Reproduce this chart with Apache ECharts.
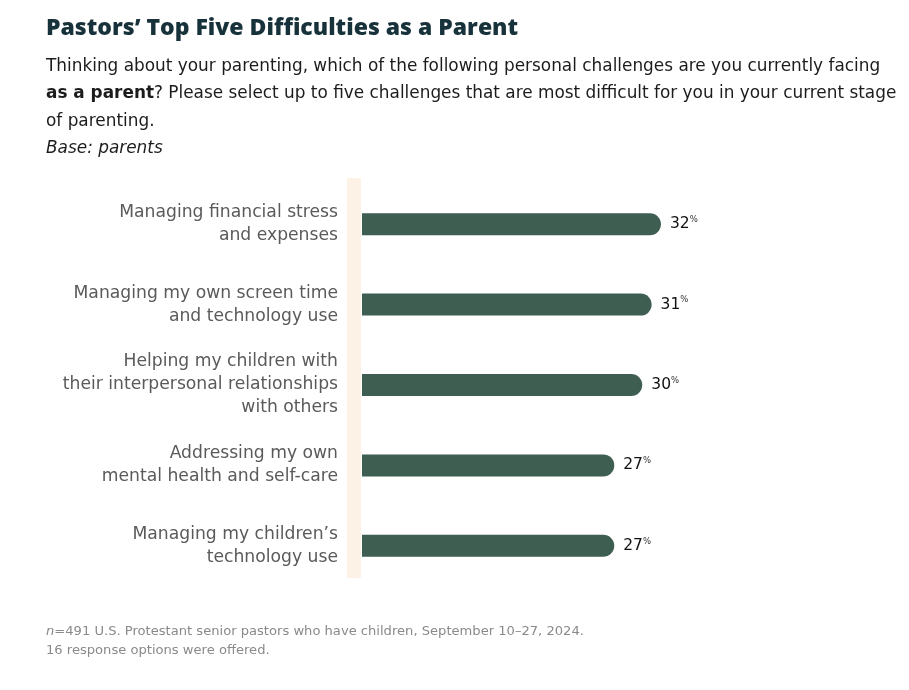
<!DOCTYPE html>
<html><head><meta charset="utf-8">
<script src="https://cdn.jsdelivr.net/npm/echarts@6/dist/echarts.min.js"></script>
<style>html,body{margin:0;padding:0;background:#fff}#c{width:909px;height:690px}</style>
</head><body><div id="c"></div>
<script>
const categories = [
  "Managing financial stress\nand expenses",
  "Managing my own screen time\nand technology use",
  "Helping my children with\ntheir interpersonal relationships\nwith others",
  "Addressing my own\nmental health and self-care",
  "Managing my children’s\ntechnology use"
];
const values = [32, 31, 30, 27, 27];

const chart = echarts.init(document.getElementById('c'), null, {renderer:'canvas'});
const FONT = "'DejaVu Sans', sans-serif";
chart.setOption({
  backgroundColor: '#fff',
  animation: false,
  title: [
    {text: 'Pastors’ Top Five Difficulties as a Parent', left: 41, top: 12,
     textStyle: {fontFamily: "'Open Sans', sans-serif", fontWeight: 800, fontSize: 23, color: '#17323a'}},
    {text: 'Thinking about your parenting, which of the following personal challenges are you currently facing\n{b|as a parent}? Please select up to five challenges that are most difficult for you in your current stage\nof parenting.\n{i|Base: parents}',
     left: 41, top: 48,
     textStyle: {fontFamily: FONT, fontSize: 16.9, fontWeight: 'normal', color: '#1c1c1c', lineHeight: 27.3,
       rich: {b: {fontFamily: FONT, fontSize: 16.9, fontWeight: 'bold', color: '#1c1c1c', lineHeight: 27.3},
              i: {fontFamily: FONT, fontSize: 16.9, fontWeight: 'normal', fontStyle: 'italic', color: '#1c1c1c', lineHeight: 27.3}}}},
    {text: '{i|n}=491 U.S. Protestant senior pastors who have children, September 10–27, 2024.\n16 response options were offered.',
     left: 41, top: 617,
     textStyle: {fontFamily: FONT, fontSize: 13.1, fontWeight: 'normal', color: '#8a8a8a', lineHeight: 19,
       rich: {i: {fontFamily: FONT, fontSize: 13.1, fontWeight: 'normal', fontStyle: 'italic', color: '#8a8a8a', lineHeight: 19}}}}
  ],
  graphic: [
    {type: 'rect', left: 347, top: 178, shape: {width: 14, height: 400}, style: {fill: '#fdf2e6'}, z: 0}
  ],
  grid: {left: 362, top: 184, height: 402, width: 373.7},
  xAxis: {type: 'value', min: 0, max: 40, show: false},
  yAxis: {
    type: 'category', data: categories, inverse: true,
    axisLine: {show: false}, axisTick: {show: false},
    axisLabel: {margin: 24, fontFamily: FONT, fontSize: 17.2, color: '#5a5a5a', lineHeight: 23, align: 'right'}
  },
  series: [{
    type: 'bar', data: values, barWidth: 22,
    itemStyle: {color: '#3d5e50', borderRadius: [0, 11, 11, 0]},
    label: {show: true, position: 'right', distance: 9,
      formatter: p => p.value + '{s|%}',
      fontFamily: FONT, fontSize: 15.5, fontWeight: 500, color: '#111',
      rich: {s: {fontSize: 8.5, verticalAlign: 'top', padding: [0,0,9,0], color: '#333', fontFamily: FONT}}}
  }]
});
</script></body></html>
